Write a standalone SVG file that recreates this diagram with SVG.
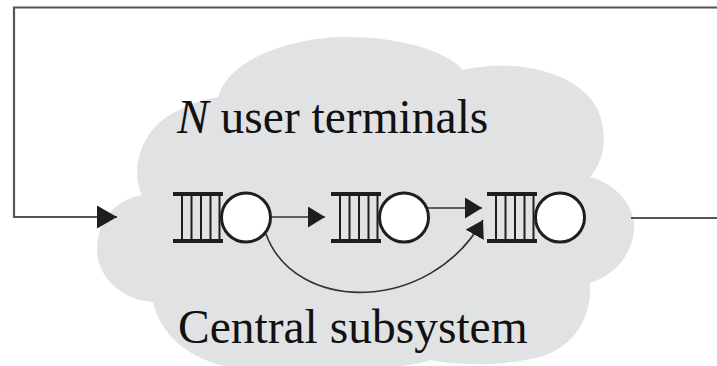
<svg xmlns="http://www.w3.org/2000/svg" width="717" height="366" viewBox="0 0 717 366">
  <style>
    .frame { fill: none; stroke: #555; stroke-width: 2.2; }
    .link { fill: none; stroke: #333; stroke-width: 1.6; }
    .bar { stroke: #1e1e1e; stroke-width: 4; }
    .slot { stroke: #1e1e1e; stroke-width: 2; }
    .server { fill: #fff; stroke: #1e1e1e; stroke-width: 3; }
    .label { font-family: "Liberation Serif", "Times New Roman", serif; font-size: 47.5px; fill: #111; }
  </style>
  <defs>
    <marker id="head" markerUnits="userSpaceOnUse" markerWidth="20" markerHeight="24" refX="17" refY="10.5" orient="auto">
      <path d="M0,0 L17,10.5 L0,21 Z" fill="#1e1e1e"/>
    </marker>
    <marker id="bighead" markerUnits="userSpaceOnUse" markerWidth="22" markerHeight="24" refX="20" refY="11.5" orient="auto">
      <path d="M0,0 L20,11.5 L0,23 Z" fill="#1e1e1e"/>
    </marker>
    <!-- a queue: waiting line with slots, followed by its server -->
    <g id="queue">
      <line class="bar" x1="0" y1="-23.5" x2="50" y2="-23.5"/>
      <line class="bar" x1="0" y1="23.5" x2="50" y2="23.5"/>
      <line class="slot" x1="9" y1="-23" x2="9" y2="23"/>
      <line class="slot" x1="18.5" y1="-23" x2="18.5" y2="23"/>
      <line class="slot" x1="28" y1="-23" x2="28" y2="23"/>
      <line class="slot" x1="37.5" y1="-23" x2="37.5" y2="23"/>
      <line class="slot" x1="46.5" y1="-23" x2="46.5" y2="23"/>
      <circle class="server" cx="73" cy="0" r="24.5"/>
    </g>
  </defs>

  <!-- central subsystem cloud -->
  <g id="cloud">
    <path fill="#e1e2e4" d="M218,97
      C230,55 300,37 345,37 C400,37 445,50 463,70
      C500,60 575,65 598,110 C608,135 605,160 590,177
      C620,185 636,210 634,230 C632,255 615,275 590,283
      C592,310 580,345 540,357 C505,366 460,366 430,360
      C400,372 260,374 230,367
      C190,360 160,335 153,302
      C120,300 97,275 97,250 C97,220 115,200 142,195
      C130,170 140,130 175,112 C190,104 205,99 218,97 Z"/>
  </g>

  <!-- closed loop through the terminals -->
  <g id="connectors">
    <path class="frame" d="M631,218 H720"/>
    <path class="frame" d="M720,7.5 H14 V217 H117" marker-end="url(#bighead)"/>
    <path class="link" d="M270,217 H325" marker-end="url(#head)"/>
    <path class="link" d="M427,208 H482" marker-end="url(#head)"/>
    <path class="link" d="M266,234 C295,314 430,314 483,220" marker-end="url(#head)"/>
  </g>

  <g id="q1"><use href="#queue" x="173" y="217.5"/></g>
  <g id="q2"><use href="#queue" x="331" y="217.5"/></g>
  <g id="q3"><use href="#queue" x="487" y="217.5"/></g>

  <g id="labels">
    <text class="label" x="177" y="133"><tspan font-style="italic">N</tspan> user terminals</text>
    <text class="label" x="178" y="343">Central subsystem</text>
  </g>
</svg>
